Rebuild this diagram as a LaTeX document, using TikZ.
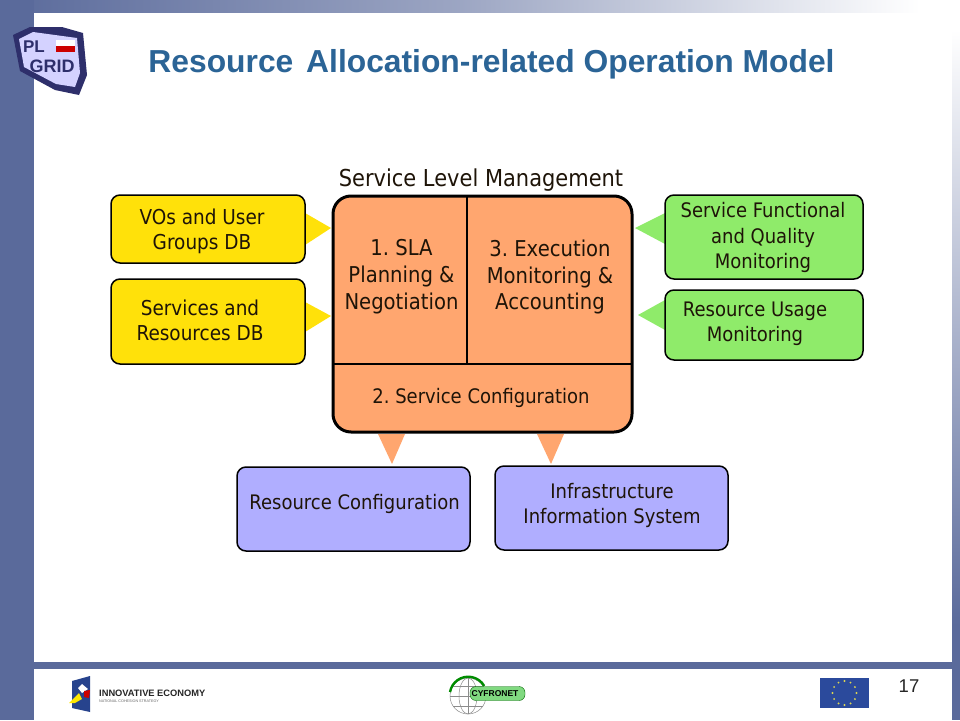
\documentclass[tikz,border=0pt]{standalone}
\usepackage{fontspec}
\setmainfont{DejaVu Sans}[FakeStretch=0.9]
\newfontfamily\lib{Liberation Sans}
\usetikzlibrary{shapes.geometric,calc}
\definecolor{barblue}{HTML}{5A6A9B}
\definecolor{titleblue}{HTML}{2B6496}
\definecolor{yel}{HTML}{FFE10A}
\definecolor{grn}{HTML}{8FEB6A}
\definecolor{org}{HTML}{FFA66F}
\definecolor{pur}{HTML}{B0AEFF}
\definecolor{txt}{HTML}{1E1408}
\definecolor{navy}{HTML}{2E2F6B}
\definecolor{eub}{HTML}{2B4A9C}
\tikzset{
 x=1pt,y=-1pt,
 boxb/.style={draw=black,line width=1.5pt,rounded corners=9pt,inner sep=0pt},
 boxtext/.style={inner sep=0pt,align=center,text=txt,font=\fontsize{20}{25.4}\selectfont},
 maintext/.style={inner sep=0pt,align=center,text=txt,font=\fontsize{21.8}{26.8}\selectfont},
}
\newcommand{\bx}[6]{\node[boxb,fill=#6,minimum width=#3pt,minimum height=#4pt] (#5) at (#1,#2) {};}
\begin{document}
\frenchspacing
\begin{tikzpicture}
\useasboundingbox (0,0) rectangle (960,720);
\fill[white] (0,0) rectangle (960,720);
% frame
\shade[left color=barblue,right color=white,middle color=barblue!60!white] (0,0) rectangle (920,12);
\fill[barblue] (0,0) rectangle (34,720);
\shade[top color=white,bottom color=barblue] (952,30) rectangle (960,625);
\fill[barblue] (952,625) rectangle (960,720);
\fill[barblue] (34,662) rectangle (952,669);
% title
\node[inner sep=0pt,text=titleblue,font=\lib\bfseries\fontsize{31.8}{36}\selectfont] (title) at (491.5,64) {Resource\hspace{4pt} Allocation-related Operation Model};
% PL-Grid logo
\fill[fill=navy] (13,35) -- (30,27) -- (62,27) -- (83,33) -- (87,75) -- (79,95) -- (55,90) -- (20,71) -- cycle;
\fill[fill=pur!55!white] (19,39) -- (33,32) -- (77,38) -- (80,73) -- (75,87) -- (56,84) -- (24,67) -- cycle;
\fill[white] (56,40) rectangle (75,46);
\fill[red!80!black] (56,46) rectangle (75,52);
\node[inner sep=0pt,text=navy,font=\lib\bfseries\fontsize{17}{17}\selectfont] (pl) at (34,47) {PL};
\node[inner sep=0pt,text=navy,font=\lib\bfseries\fontsize{18}{18}\selectfont] (grid) at (52,66) {GRID};
% heading
\node[boxtext,font=\fontsize{23.3}{26}\selectfont] (slm) at (481,180) {Service Level Management};
% wedges
\fill[yel] (305,213) -- (331,228) -- (305,245) -- cycle;
\fill[yel] (305,302) -- (331,316) -- (305,332) -- cycle;
\fill[grn] (665,213) -- (635,228) -- (665,244) -- cycle;
\fill[grn] (665,300) -- (638,315) -- (665,330) -- cycle;
\fill[org] (378,434) -- (405,434) -- (392,464) -- cycle;
\fill[org] (537,434) -- (564,434) -- (551,464) -- cycle;
% boxes
\bx{208}{229}{194}{68}{vo}{yel}
\bx{208}{321.5}{194}{85}{sr}{yel}
\bx{764}{237}{198}{84}{sf}{grn}
\bx{764}{325}{198}{70}{ru}{grn}
\bx{353.5}{509}{233}{84}{rc}{pur}
\bx{611.5}{508}{233}{84}{is}{pur}
\node[boxtext,font=\fontsize{20.5}{25.4}\selectfont] (vot) at (202,231.5) {VOs and User\\Groups DB};
\node[boxtext,font=\fontsize{20.5}{25.4}\selectfont] (srt) at (200,320.5) {Services and\\Resources DB};
\node[boxtext] (sft) at (763,237.5) {Service Functional\\and Quality\\Monitoring};
\node[boxtext] (rut) at (755,324) {Resource Usage\\Monitoring};
\node[boxtext] (rct) at (354.5,504) {Resource Configuration};
\node[boxtext] (ist) at (612,505.5) {Infrastructure\\Information System};
% main block
\node[draw=black,line width=3pt,rounded corners=18pt,fill=org,minimum width=299pt,minimum height=236pt,inner sep=0pt] (main) at (482.5,314) {};
\draw[line width=2.2pt] (333,364) -- (632,364);
\draw[line width=2.2pt] (467,196) -- (467,364);
\node[maintext] (sla) at (401.5,276.5) {1. SLA\\Planning \&\\Negotiation};
\node[maintext] (exec) at (550,277) {3. Execution\\Monitoring \&\\Accounting};
\node[maintext,font=\fontsize{20}{25}\selectfont] (cfg) at (481,398) {2. Service Configuration};
% footer logos
\fill[eub!90!black] (72,681) -- (90,676) -- (90,712) -- (72,708) -- cycle;
\fill[white] (82,684) -- (88,689) -- (82,693) -- (78,688) -- cycle;
\fill[red!80!black] (84,691) -- (90,690) -- (89,698) -- (84,697) -- cycle;
\fill[yellow!90!orange] (69,703) -- (79,693) -- (82,699) -- (75,703) -- cycle;
\node[anchor=west,inner sep=0pt,font=\lib\bfseries\fontsize{9.3}{10}\selectfont,text=black!85] (ie) at (99,693) {INNOVATIVE ECONOMY};
\node[anchor=west,inner sep=0pt,font=\lib\fontsize{3.7}{4}\selectfont,text=black!60] (ie2) at (99,701) {NATIONAL COHESION STRATEGY};
% cyfronet
\draw[black!45,line width=.5pt] (468,696) circle (18);
\draw[black!45,line width=.5pt] (468,678) -- (468,714) (450,696) -- (486,696) (453,686) -- (483,686) (453,706) -- (483,706);
\draw[black!45,line width=.5pt] (468,696) ellipse (9 and 18);
\draw[green!55!black,line width=2.4pt] (450,692) arc (190:330:18.5);
\node[draw=green!40!black,fill=green!50!white!70!gray,rounded corners=6pt,minimum width=55pt,minimum height=14pt,inner sep=0pt] (pill) at (497.5,693.5) {};
\node[inner sep=0pt,font=\lib\bfseries\fontsize{8.5}{10}\selectfont,text=black] (cy) at (495,693.5) {CYFRONET};
% EU flag
\node[fill=eub,minimum width=49pt,minimum height=30pt,inner sep=0pt] (eu) at (844.5,693) {};
\foreach \a in {0,30,...,330}{\fill[yellow!75!white!85!black] ($(844.5,693)+(\a:12)$) circle (1.1);}
\node[inner sep=0pt,font=\lib\fontsize{18.5}{20}\selectfont,text=black!85] (num) at (909,686) {17};
\end{tikzpicture}
\end{document}
